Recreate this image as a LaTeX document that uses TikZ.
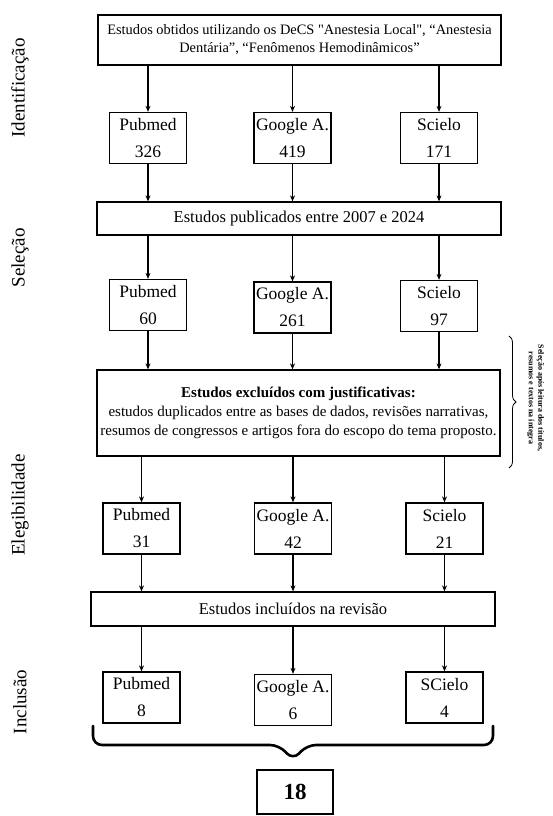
\documentclass[tikz,border=0pt]{standalone}
\usepackage{fontspec}
\setmainfont{Liberation Serif}[Ligatures=TeXOff]
\usetikzlibrary{arrows.meta,decorations.pathreplacing}
\begin{document}
\begin{tikzpicture}[x=1pt,y=-1pt,
  box/.style={draw, line width=1.3pt, inner sep=0pt, align=center},
  db/.style={box, minimum width=77pt, minimum height=51pt, font=\fontsize{17.5}{27}\selectfont},
  wide/.style={box, font=\fontsize{16.5}{19}\selectfont},
  arr/.style={-{Stealth[length=6pt,width=5pt]}, line width=1.3pt},
  side/.style={rotate=90, inner sep=0pt, font=\fontsize{19}{22}\selectfont}]
\useasboundingbox (0,0) rectangle (553,816);

% side labels
\node[side] (l1) at (20,88) {Identificação};
\node[side] (l2) at (20,258) {Seleção};
\node[side] (l3) at (20,505) {Elegibilidade};
\node[side] (l4) at (20,702) {Inclusão};

% top box
\node[box, minimum width=403pt, minimum height=50pt, font=\fontsize{14.4}{18}\selectfont] (top) at (299.5,40)
  {Estudos obtidos utilizando os DeCS "Anestesia Local", “Anestesia\\Dentária”, “Fenômenos Hemodinâmicos”};

% row 1
\node[db] (p1) at (148,138) {Pubmed\\326};
\node[db] (g1) at (292.5,138) {Google A.\\419};
\node[db] (s1) at (439,138) {Scielo\\171};
\foreach \n in {p1,g1,s1} \draw[arr] (\n |- top.south) -- (\n.north);

% publication years
\node[wide, minimum width=404pt, minimum height=33pt] (pub) at (299,218.5) {Estudos publicados entre 2007 e 2024};
\foreach \n in {p1,g1,s1} \draw[arr] (\n.south) -- (\n |- pub.north);

% row 2
\node[db] (p2) at (148,305) {Pubmed\\60};
\node[db] (g2) at (292.5,307.5) {Google A.\\261};
\node[db] (s2) at (439,306) {Scielo\\97};
\foreach \n in {p2,g2,s2} \draw[arr] (\n |- pub.south) -- (\n.north);

% exclusion box
\node[box, minimum width=403pt, minimum height=86pt, font=\fontsize{15}{19}\selectfont] (excl) at (298.5,413)
  {\textbf{Estudos excluídos com justificativas:}\\
   estudos duplicados entre as bases de dados, revisões narrativas,\\
   resumos de congressos e artigos fora do escopo do tema proposto.};
\foreach \n in {p2,g2,s2} \draw[arr] (\n.south) -- (\n |- excl.north);

% side brace and note
\coordinate (bt) at (509,336);
\coordinate (bb) at (509,468);
\draw[decorate, decoration={brace, amplitude=7pt}, line width=0.8pt] (bt) -- (bb);
\node[rotate=-90, align=center, inner sep=0pt, font=\bfseries\fontsize{8}{9.5}\selectfont] (note) at (535.5,398)
  {Seleção após leitura dos títulos,\\resumos e textos na íntegra};

% row 3
\node[db] (p3) at (141.5,528.5) {Pubmed\\31};
\node[db] (g3) at (293,528.5) {Google A.\\42};
\node[db] (s3) at (444.5,528.5) {Scielo\\21};
\foreach \n in {p3,g3,s3} \draw[arr] (\n |- excl.south) -- (\n.north);

% included
\node[wide, minimum width=404pt, minimum height=34pt] (incl) at (293,609) {Estudos incluídos na revisão};
\foreach \n in {p3,g3,s3} \draw[arr] (\n.south) -- (\n |- incl.north);

% row 4
\node[db] (p4) at (141.5,697.5) {Pubmed\\8};
\node[db] (g4) at (293,700) {Google A.\\6};
\node[db] (s4) at (444.5,697.5) {SCielo\\4};
\foreach \n in {p4,g4,s4} \draw[arr] (\n |- incl.south) -- (\n.north);

% bottom brace
\coordinate (bl) at (93,726);
\coordinate (br) at (493,726);
\draw[line width=2.6pt, line cap=round, rounded corners=9pt]
  (bl) -- (93,745) -- (279,745) -- (293,760) -- (307,745) -- (493,745) -- (br);

% total
\node[box, line width=1.5pt, minimum width=76pt, minimum height=44pt, font=\bfseries\fontsize{23}{26}\selectfont] (total) at (295,792) {18};
\end{tikzpicture}
\end{document}
